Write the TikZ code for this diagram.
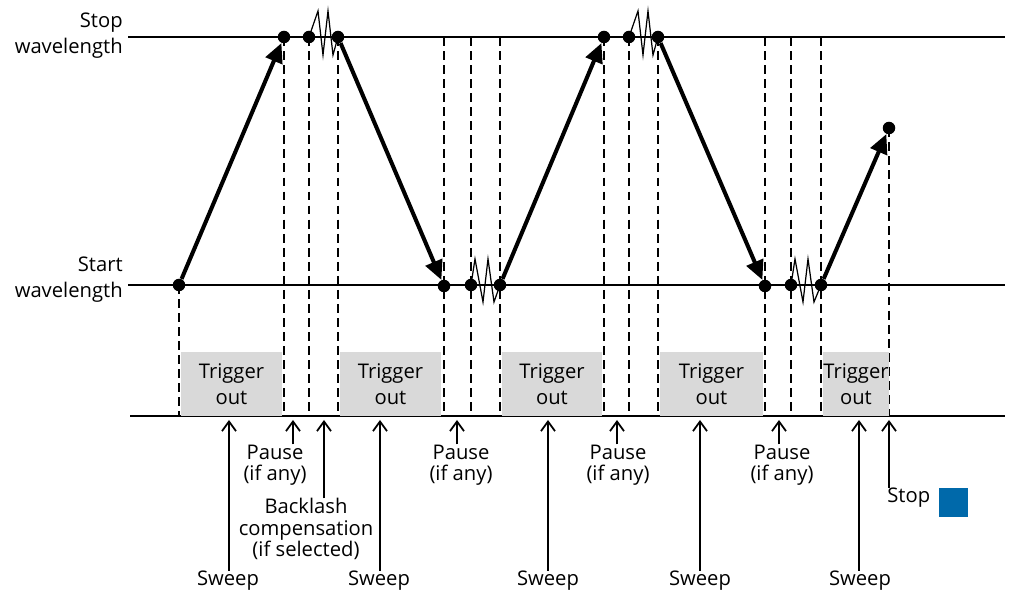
\documentclass[tikz,border=0pt]{standalone}
\usepackage{fontspec}
\setmainfont{Open Sans}
\usetikzlibrary{arrows.meta}
\definecolor{stopblue}{HTML}{0069AA}
\definecolor{boxgrey}{HTML}{D9D9D9}

\begin{document}
\begin{tikzpicture}[x=0.02cm,y=-0.02cm,
    font=\fontsize{11.5}{12}\selectfont,
    dot/.style={circle,fill=black,inner sep=0pt,minimum size=0.25cm},
    guide/.style={dash pattern=on 5pt off 3pt,line width=1.3pt},
    level/.style={line width=0.9pt},
    sweeparr/.style={line width=2.3pt,-{Triangle[length=11pt,width=10pt]}},
    zig/.style={line width=0.7pt,line join=miter},
    uparr/.style={line width=1.2pt,-{Straight Barb[length=5.5pt,width=8pt,line width=1pt]}},
    trig/.style={fill=boxgrey,minimum height=1.28cm,inner sep=0pt,align=center,font=\fontsize{11.5}{14.7}\selectfont},
    lbl/.style={align=center,inner sep=0pt}]
        \useasboundingbox (0,0) rectangle (1009,594);
        % levels
        \coordinate (top) at (128,37);
        \coordinate (topend) at (1005,37);
        \coordinate (bot) at (128,285);
        \coordinate (botend) at (1005,285);
        \coordinate (base) at (130,416);
        \coordinate (baseend) at (1005,416);
        \node[lbl,anchor=east,align=right,font=\fontsize{11.5}{14.7}\selectfont] (stoplbl) at (123,36) {Stop\\wavelength};
        \node[lbl,anchor=east,align=right,font=\fontsize{11.5}{14.7}\selectfont] (startlbl) at (123,280) {Start\\wavelength};
        % wavelength points
        \node[dot] (d1) at (179,285) {};
        \node[dot] (d2) at (284,37) {};
        \node[dot] (d3) at (309,37) {};
        \node[dot] (d4) at (338,37) {};
        \node[dot] (d5) at (444,286) {};
        \node[dot] (d6) at (471,285) {};
        \node[dot] (d7) at (500,285) {};
        \node[dot] (d8) at (604,37) {};
        \node[dot] (d9) at (629,37) {};
        \node[dot] (d10) at (658,37) {};
        \node[dot] (d11) at (765,286) {};
        \node[dot] (d12) at (791,285) {};
        \node[dot] (d13) at (821,285) {};
        \node[dot] (d14) at (889,128) {};
        \draw[level] (top) -- (topend);
        \draw[level] (bot) -- (botend);
        \draw[level] (base) -- (baseend);
        % sweeps
        \draw[sweeparr] (d1) -- (d2);
        \draw[sweeparr] (d4) -- (d5);
        \draw[sweeparr] (d7) -- (d8);
        \draw[sweeparr] (d10) -- (d11);
        \draw[sweeparr] (d13) -- (d14);
        % pauses and backlash
        \draw[zig] (d3.center) -- ++(9,-26) -- ++(5,44) -- ++(5,-44) -- ++(5,44) -- (d4.center);
        \draw[zig] (d6.center) -- ++(4,-26) -- ++(8,43) -- ++(5,-43) -- ++(6,43) -- (d7.center);
        \draw[zig] (d9.center) -- ++(9,-26) -- ++(5,44) -- ++(5,-44) -- ++(5,44) -- (d10.center);
        \draw[zig] (d12.center) -- ++(4,-26) -- ++(8,43) -- ++(5,-43) -- ++(6,43) -- (d13.center);
        % guides
        \draw[guide] (d1.center) -- (d1 |- base);
        \draw[guide] (d2.center) -- (d2 |- base);
        \draw[guide] (d3.center) -- (d3 |- base);
        \draw[guide] (d4.center) -- (d4 |- base);
        \draw[guide] (d5 |- top) -- (d5 |- base);
        \draw[guide] (d6 |- top) -- (d6 |- base);
        \draw[guide] (d7 |- top) -- (d7 |- base);
        \draw[guide] (d8.center) -- (d8 |- base);
        \draw[guide] (d9.center) -- (d9 |- base);
        \draw[guide] (d10.center) -- (d10 |- base);
        \draw[guide] (d11 |- top) -- (d11 |- base);
        \draw[guide] (d12 |- top) -- (d12 |- base);
        \draw[guide] (d13 |- top) -- (d13 |- base);
        \draw[guide] (d14.center) -- (d14 |- base);
        % trigger out
        \node[trig,minimum width=2.02cm] (tr1) at (231.5,384) {Trigger\\out};
        \node[trig,minimum width=2.02cm] (tr2) at (390.5,384) {Trigger\\out};
        \node[trig,minimum width=2.00cm] (tr3) at (552,384) {Trigger\\out};
        \node[trig,minimum width=2.06cm] (tr4) at (711.5,384) {Trigger\\out};
        \node[trig,minimum width=1.32cm] (tr5) at (856,384) {Trigger\\out};
        % labels below
        \node[lbl] (sw1) at (228,581) {Sweep};
        \node[lbl] (sw2) at (379,581) {Sweep};
        \node[lbl] (sw3) at (548,581) {Sweep};
        \node[lbl] (sw4) at (700,581) {Sweep};
        \node[lbl] (sw5) at (860,581) {Sweep};
        \node[lbl] (pa1) at (275,465) {Pause\\(if any)};
        \node[lbl] (pa2) at (461,465) {Pause\\(if any)};
        \node[lbl] (pa3) at (618,465) {Pause\\(if any)};
        \node[lbl] (pa4) at (782,465) {Pause\\(if any)};
        \node[lbl] (bk) at (306,529) {Backlash\\compensation\\(if selected)};
        \node[lbl,anchor=west] (stp) at (887,498) {Stop};
        \node[fill=stopblue,minimum size=0.58cm,inner sep=0pt] (sq) at (953.5,502.5) {};
        \coordinate (sw1t) at (229,420);
        \coordinate (sw2t) at (380,420);
        \coordinate (sw3t) at (548,420);
        \coordinate (sw4t) at (700,420);
        \coordinate (sw5t) at (859,420);
        \coordinate (pa1t) at (293,420);
        \coordinate (pa2t) at (457,420);
        \coordinate (pa3t) at (617,420);
        \coordinate (pa4t) at (779,420);
        \coordinate (bkt) at (324,420);
        \coordinate (stpt) at (889,420);
        \draw[uparr] (sw1t |- sw1.north) -- (sw1t);
        \draw[uparr] (sw2t |- sw2.north) -- (sw2t);
        \draw[uparr] (sw3t |- sw3.north) -- (sw3t);
        \draw[uparr] (sw4t |- sw4.north) -- (sw4t);
        \draw[uparr] (sw5t |- sw5.north) -- (sw5t);
        \draw[uparr] (pa1t |- pa1.north) -- (pa1t);
        \draw[uparr] (pa2t |- pa2.north) -- (pa2t);
        \draw[uparr] (pa3t |- pa3.north) -- (pa3t);
        \draw[uparr] (pa4t |- pa4.north) -- (pa4t);
        \draw[uparr] (bkt |- bk.north) -- (bkt);
        \draw[uparr] (stpt |- stp.north) -- (stpt);
    \end{tikzpicture}
\end{document}
